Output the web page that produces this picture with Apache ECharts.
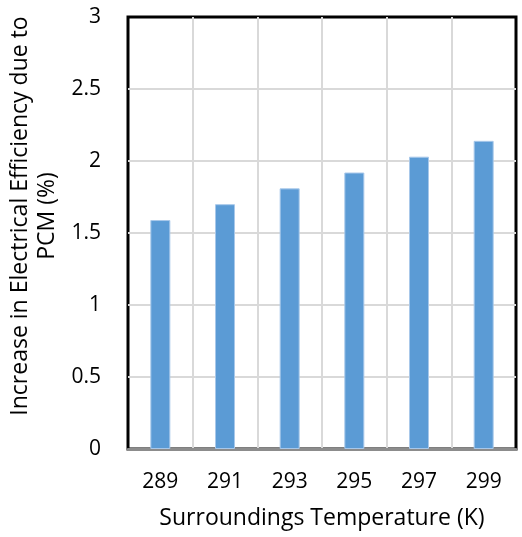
<!DOCTYPE html>
<html>
<head>
<meta charset="utf-8">
<script src="https://cdn.jsdelivr.net/npm/echarts@6/dist/echarts.min.js"></script>
<style>
html, body { margin: 0; padding: 0; background: #fff; }
#chart { width: 522px; height: 537px; }
</style>
</head>
<body>
<div id="chart"></div>
<script>
// data
var temps = ['289', '291', '293', '295', '297', '299'];
var increase = [1.59, 1.70, 1.81, 1.92, 2.03, 2.14];
var yTicks = [0, 0.5, 1, 1.5, 2, 2.5, 3];

var font = '"Open Sans", "Noto Sans", sans-serif';

var myChart = echarts.init(document.getElementById('chart'));
var option = {
	animation : false,
	backgroundColor : '#fff',
	grid : {
		left : 128,
		right : 6,
		top : 17,
		bottom : 88,
		outerBoundsMode : 'none',
		containLabel : false,
		show : true,
		borderColor : '#000',
		borderWidth : 3
	},
	xAxis : {
		type : 'category',
		data : temps,
		name : 'Surroundings Temperature (K)',
		nameLocation : 'middle',
		nameGap : 58,
		nameTextStyle : { fontFamily : font, fontSize : 23, color : '#000' },
		axisLine : { lineStyle : { color : '#8c8c8c', width : 3 } },
		axisTick : { show : false },
		axisLabel : { fontFamily : font, fontSize : 21, color : '#000', margin : 23 },
		splitLine : { show : true, showMinLine : false, showMaxLine : false, lineStyle : { color : '#d9d9d9', width : 2 } }
	},
	yAxis : {
		type : 'value',
		min : yTicks[0],
		max : yTicks[yTicks.length - 1],
		interval : 0.5,
		name : 'Increase in Electrical Efficiency due to\nPCM (%)',
		nameLocation : 'middle',
		nameGap : 61,
		nameTextStyle : { fontFamily : font, fontSize : 23, color : '#000', lineHeight : 27, padding : [0, 0, 0, 34] },
		axisLine : { show : false },
		axisTick : { show : false },
		axisLabel : { fontFamily : font, fontSize : 21, color : '#000', margin : 27 },
		splitLine : { show : true, showMinLine : false, showMaxLine : false, lineStyle : { color : '#d9d9d9', width : 2 } }
	},
	series : [ {
		type : 'bar',
		data : increase,
		barWidth : 20,
		itemStyle : { color : '#5b9bd5', borderColor : '#a8c8ea', borderWidth : 1 }
	} ]
};
myChart.setOption(option);
</script>
</body>
</html>
